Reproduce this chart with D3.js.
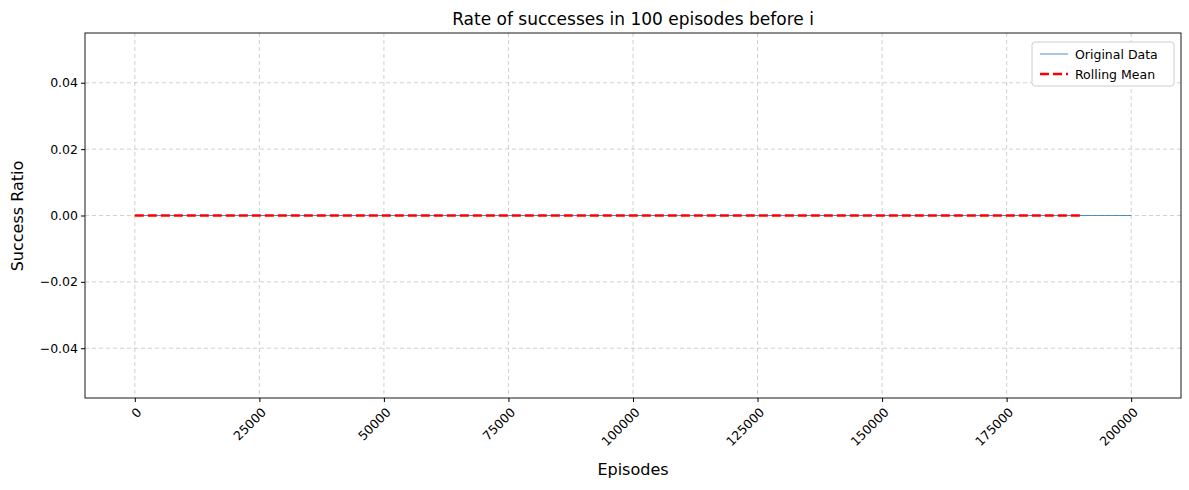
<!DOCTYPE html>
<html><head><meta charset="utf-8">
<script src="https://cdn.jsdelivr.net/npm/d3@7"></script>
<style>body{margin:0;background:#fff;font-family:"DejaVu Sans",sans-serif}</style>
</head><body><div id="container"></div>
<script>
/* DATA */
const episodes = [0, 50000, 100000, 150000, 200000],
  successRatio = [0, 0, 0, 0, 0];
const rollingEpisodes = [0, 50000, 100000, 150000, 190000],
  rollingMean = [0, 0, 0, 0, 0];
const xTicks = [0, 25000, 50000, 75000, 100000, 125000, 150000, 175000, 200000],
  yTicks = [-0.04, -0.02, 0, 0.02, 0.04];

const width = 1189, height = 490,
  margin = { top: 33, bottom: 92, left: 85, right: 8 };

const svg = d3.select("#container").append("svg")
  .attr("width", width).attr("height", height);

const xScale = d3.scaleLinear().domain([-10000, 210000])
  .range([margin.left, width - margin.right]);
const yScale = d3.scaleLinear().domain([-0.055, 0.055])
  .range([height - margin.bottom, margin.top]);

// grid
svg.append("g").selectAll("line").data(xTicks).join("line")
  .attr("x1", d => xScale(d)).attr("x2", d => xScale(d))
  .attr("y1", margin.top).attr("y2", height - margin.bottom)
  .attr("stroke", "#b0b0b0").attr("stroke-opacity", 0.6).attr("stroke-dasharray", "4,3");
svg.append("g").selectAll("line").data(yTicks).join("line")
  .attr("y1", d => yScale(d)).attr("y2", d => yScale(d))
  .attr("x1", margin.left).attr("x2", width - margin.right)
  .attr("stroke", "#b0b0b0").attr("stroke-opacity", 0.6).attr("stroke-dasharray", "4,3");

// axes
const xAxis = svg.append("g")
  .attr("transform", `translate(0,${height - margin.bottom})`)
  .call(d3.axisBottom(xScale).tickValues(xTicks).tickSize(4).tickFormat(d3.format("d")));
xAxis.selectAll("text").attr("font-size", 12.5).attr("fill", "#000")
  .attr("text-anchor", "end").attr("x", 0).attr("y", 0).attr("dy", "0.35em")
  .attr("transform", "translate(4,12) rotate(-45)");
const yAxis = svg.append("g")
  .attr("transform", `translate(${margin.left},0)`)
  .call(d3.axisLeft(yScale).tickValues(yTicks).tickSize(4)
    .tickFormat(d => d < 0 ? "\u2212" + d3.format(".2f")(-d) : d3.format(".2f")(d)));
yAxis.selectAll("text").attr("font-size", 12.5).attr("fill", "#000");
[xAxis, yAxis].forEach(a => {
  a.attr("font-family", "DejaVu Sans");
  a.select(".domain").remove(); a.selectAll("line").attr("stroke", "#000");
});

svg.append("rect").attr("x", margin.left).attr("y", margin.top)
  .attr("width", width - margin.left - margin.right)
  .attr("height", height - margin.top - margin.bottom)
  .attr("fill", "none").attr("stroke", "#000").attr("stroke-width", 0.9);

// lines
const line = d3.line().x(d => xScale(d[0])).y(d => yScale(d[1]));
svg.append("path").datum(d3.zip(episodes, successRatio)).attr("d", line)
  .attr("fill", "none").attr("stroke", "#1f77b4").attr("stroke-width", 0.8);
svg.append("path").datum(d3.zip(rollingEpisodes, rollingMean)).attr("d", line)
  .attr("fill", "none").attr("stroke", "red").attr("stroke-width", 2.6).attr("stroke-dasharray", "9,4");

// labels
svg.append("text").attr("x", (margin.left + width - margin.right) / 2).attr("y", 25)
  .attr("text-anchor", "middle").attr("font-size", 17).text("Rate of successes in 100 episodes before i");
svg.append("text").attr("x", (margin.left + width - margin.right) / 2).attr("y", 475)
  .attr("text-anchor", "middle").attr("font-size", 16).text("Episodes");
svg.append("text").attr("transform", "translate(23,216) rotate(-90)")
  .attr("text-anchor", "middle").attr("font-size", 16).text("Success Ratio");

// legend
const lg = svg.append("g").attr("transform", "translate(1032,42)");
lg.append("rect").attr("width", 142).attr("height", 44).attr("rx", 3)
  .attr("fill", "#fff").attr("stroke", "#ccc");
lg.append("line").attr("x1", 8).attr("x2", 36).attr("y1", 12).attr("y2", 12)
  .attr("stroke", "#1f77b4").attr("stroke-width", 0.8);
lg.append("line").attr("x1", 8).attr("x2", 36).attr("y1", 32).attr("y2", 32)
  .attr("stroke", "red").attr("stroke-width", 2.6).attr("stroke-dasharray", "9,4");
lg.append("text").attr("x", 43).attr("y", 16.5).attr("font-size", 12.5).text("Original Data");
lg.append("text").attr("x", 43).attr("y", 36.5).attr("font-size", 12.5).text("Rolling Mean");
</script></body></html>
